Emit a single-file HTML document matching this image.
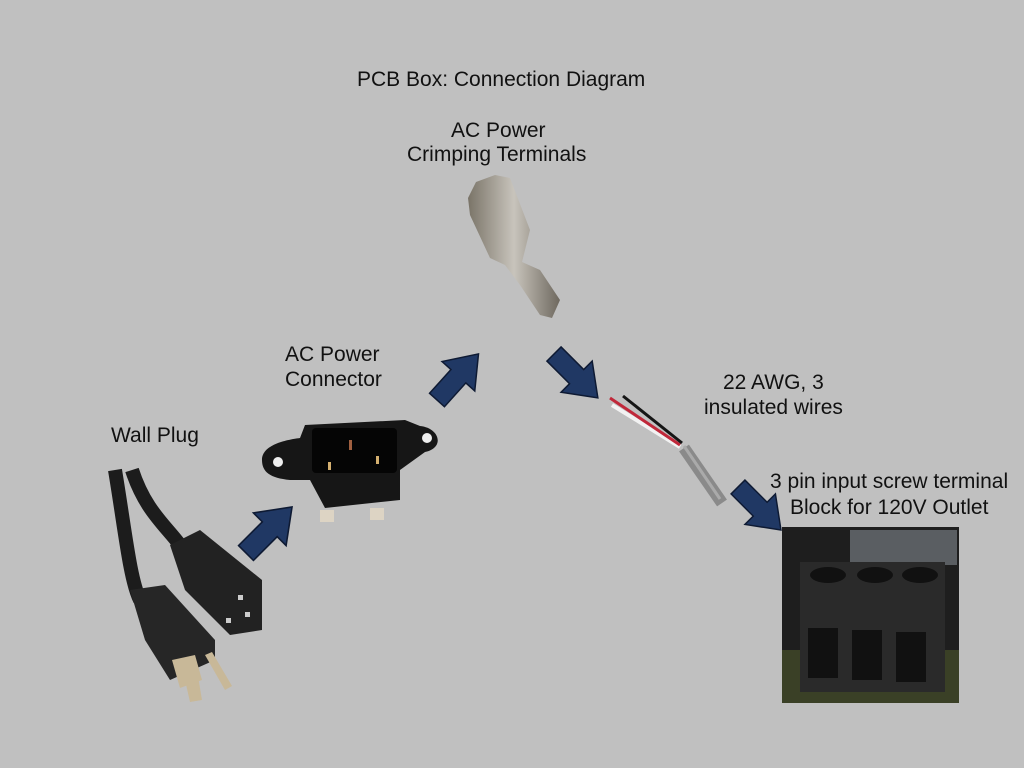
<!DOCTYPE html>
<html><head><meta charset="utf-8"><style>
html,body{margin:0;padding:0;background:#c0c0c0;}
svg{display:block}
text{font-family:"Liberation Sans",sans-serif;fill:#111;font-size:21px}
</style></head><body>
<svg width="1024" height="768" viewBox="0 0 1024 768">
<rect width="1024" height="768" fill="#c0c0c0"/>
<defs>
<polygon id="arr" points="0,-10 32,-10 32,-22 62,0 32,22 32,10 0,10" fill="#203864" stroke="#0e1a33" stroke-width="1.5"/>
<linearGradient id="metal" x1="0" x2="1"><stop offset="0" stop-color="#7a7468"/><stop offset="0.5" stop-color="#c8c4bc"/><stop offset="1" stop-color="#6e685e"/></linearGradient>
</defs>
<text x="357" y="86">PCB Box: Connection Diagram</text>
<text x="451" y="137">AC Power</text>
<text x="407" y="161">Crimping Terminals</text>
<text x="285" y="361">AC Power</text>
<text x="285" y="386">Connector</text>
<text x="111" y="442">Wall Plug</text>
<text x="723" y="389">22 AWG, 3</text>
<text x="704" y="414">insulated wires</text>
<text x="770" y="488">3 pin input screw terminal</text>
<text x="790" y="514">Block for 120V Outlet</text>

<use href="#arr" transform="translate(246,553) rotate(-45) scale(1.05)"/>
<use href="#arr" transform="translate(437,400) rotate(-48)"/>
<use href="#arr" transform="translate(554,354) rotate(45)"/>
<use href="#arr" transform="translate(738,487) rotate(45) scale(0.98)"/>

<!-- wall plug -->
<path d="M115,470 C125,530 130,580 140,600" stroke="#1c1c1c" stroke-width="14" fill="none"/>
<path d="M132,470 C145,510 165,525 180,545" stroke="#1c1c1c" stroke-width="14" fill="none"/>
<path d="M170,545 L200,530 L262,580 L262,630 L230,635 L185,590 Z" fill="#222"/>
<rect x="238" y="595" width="5" height="5" fill="#ccc"/><rect x="226" y="618" width="5" height="5" fill="#ccc"/><rect x="245" y="612" width="5" height="5" fill="#ccc"/>
<path d="M130,590 L165,585 L215,640 L215,660 L170,680 L145,640 Z" fill="#262626"/>
<polygon points="172,660 195,655 202,680 180,688" fill="#c8b898"/>
<polygon points="185,680 198,676 202,700 190,702" fill="#c8b898"/>
<polygon points="205,655 212,652 232,686 225,690" fill="#c8b898"/>

<!-- AC connector -->
<path d="M262,460 C262,445 285,440 300,438 L305,425 L405,420 L420,426 C440,428 445,448 425,452 L400,470 L400,500 L325,508 L310,480 L290,480 C270,478 262,472 262,460 Z" fill="#161616"/>
<rect x="312" y="428" width="85" height="45" rx="4" fill="#050505"/>
<circle cx="278" cy="462" r="5" fill="#eee"/><circle cx="427" cy="438" r="5" fill="#eee"/>
<rect x="349" y="440" width="3" height="10" fill="#a06040"/><rect x="328" y="462" width="3" height="8" fill="#d4b070"/><rect x="376" y="456" width="3" height="8" fill="#d4b070"/>
<rect x="320" y="510" width="14" height="12" fill="#ddd4c4"/><rect x="370" y="508" width="14" height="12" fill="#ddd4c4"/>

<!-- crimp terminal -->
<path d="M476,182 L495,175 L510,178 L530,230 L522,262 L540,270 L560,300 L552,318 L540,315 L520,285 L505,265 L490,258 L470,215 L468,198 Z" fill="url(#metal)"/>

<!-- wires -->
<line x1="612" y1="405" x2="680" y2="447" stroke="#f2f2f2" stroke-width="4"/>
<line x1="610" y1="398" x2="680" y2="445" stroke="#c0283a" stroke-width="3"/>
<line x1="623" y1="396" x2="682" y2="443" stroke="#151515" stroke-width="3"/>
<line x1="684" y1="448" x2="722" y2="503" stroke="#8a8a8a" stroke-width="12"/>
<line x1="684" y1="446" x2="720" y2="499" stroke="#aaa" stroke-width="3"/>

<!-- terminal block -->
<rect x="782" y="527" width="177" height="176" fill="#1e1e1e"/>
<rect x="850" y="530" width="107" height="35" fill="#5a5e62"/>
<rect x="782" y="650" width="177" height="53" fill="#3a4026"/>
<rect x="800" y="562" width="145" height="130" fill="#2a2a2a"/>
<ellipse cx="828" cy="575" rx="18" ry="8" fill="#111"/><ellipse cx="875" cy="575" rx="18" ry="8" fill="#111"/><ellipse cx="920" cy="575" rx="18" ry="8" fill="#111"/>
<rect x="808" y="628" width="30" height="50" fill="#111"/><rect x="852" y="630" width="30" height="50" fill="#111"/><rect x="896" y="632" width="30" height="50" fill="#111"/>
</svg>
</body></html>
